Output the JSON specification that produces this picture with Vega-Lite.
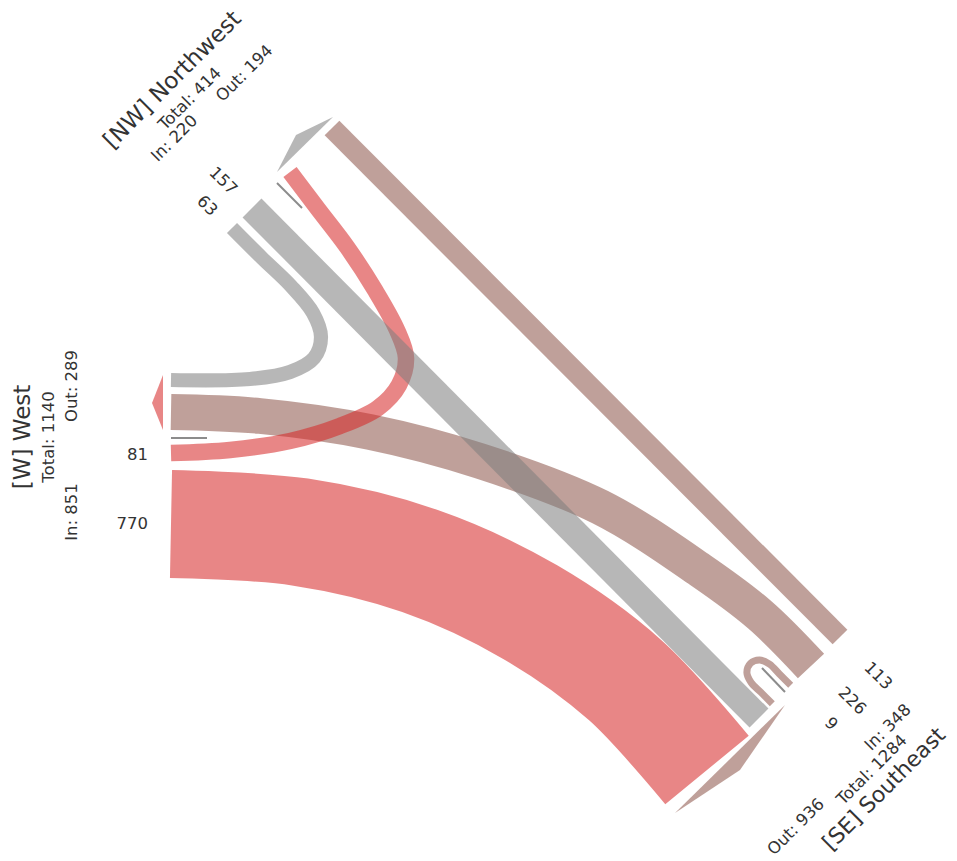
{
  "$schema": "https://vega.github.io/schema/vega-lite/v6.json",
  "width": 957,
  "height": 861,
  "autosize": "none",
  "padding": 0,
  "background": "white",
  "config": {"view": {"stroke": null}},
  "datasets": {
    "bands": [
      {"flow": "SE-W", "dst": "W", "value": 770, "i": 0, "x": 171, "y": 524},
      {"flow": "SE-W", "dst": "W", "value": 770, "i": 1, "x": 300, "y": 532},
      {"flow": "SE-W", "dst": "W", "value": 770, "i": 2, "x": 420, "y": 561},
      {"flow": "SE-W", "dst": "W", "value": 770, "i": 3, "x": 530, "y": 612},
      {"flow": "SE-W", "dst": "W", "value": 770, "i": 4, "x": 625, "y": 680},
      {"flow": "SE-W", "dst": "W", "value": 770, "i": 5, "x": 707, "y": 770},
      {"flow": "W-SE", "dst": "SE", "value": 226, "i": 0, "x": 171, "y": 412},
      {"flow": "W-SE", "dst": "SE", "value": 226, "i": 1, "x": 260, "y": 416},
      {"flow": "W-SE", "dst": "SE", "value": 226, "i": 2, "x": 370, "y": 432},
      {"flow": "W-SE", "dst": "SE", "value": 226, "i": 3, "x": 480, "y": 461},
      {"flow": "W-SE", "dst": "SE", "value": 226, "i": 4, "x": 600, "y": 507},
      {"flow": "W-SE", "dst": "SE", "value": 226, "i": 5, "x": 700, "y": 570},
      {"flow": "W-SE", "dst": "SE", "value": 226, "i": 6, "x": 760, "y": 615},
      {"flow": "W-SE", "dst": "SE", "value": 226, "i": 7, "x": 811, "y": 666},
      {"flow": "NW-W", "dst": "W", "value": 81, "i": 0, "x": 290, "y": 172},
      {"flow": "NW-W", "dst": "W", "value": 81, "i": 1, "x": 318, "y": 209},
      {"flow": "NW-W", "dst": "W", "value": 81, "i": 2, "x": 347, "y": 247},
      {"flow": "NW-W", "dst": "W", "value": 81, "i": 3, "x": 375, "y": 290},
      {"flow": "NW-W", "dst": "W", "value": 81, "i": 4, "x": 397, "y": 330},
      {"flow": "NW-W", "dst": "W", "value": 81, "i": 5, "x": 406, "y": 358},
      {"flow": "NW-W", "dst": "W", "value": 81, "i": 6, "x": 399, "y": 385},
      {"flow": "NW-W", "dst": "W", "value": 81, "i": 7, "x": 378, "y": 408},
      {"flow": "NW-W", "dst": "W", "value": 81, "i": 8, "x": 340, "y": 426},
      {"flow": "NW-W", "dst": "W", "value": 81, "i": 9, "x": 290, "y": 441},
      {"flow": "NW-W", "dst": "W", "value": 81, "i": 10, "x": 230, "y": 450},
      {"flow": "NW-W", "dst": "W", "value": 81, "i": 11, "x": 171, "y": 453},
      {"flow": "W-NW", "dst": "NW", "value": 63, "i": 0, "x": 232, "y": 228},
      {"flow": "W-NW", "dst": "NW", "value": 63, "i": 1, "x": 262, "y": 258},
      {"flow": "W-NW", "dst": "NW", "value": 63, "i": 2, "x": 291, "y": 286},
      {"flow": "W-NW", "dst": "NW", "value": 63, "i": 3, "x": 313, "y": 313},
      {"flow": "W-NW", "dst": "NW", "value": 63, "i": 4, "x": 321, "y": 337},
      {"flow": "W-NW", "dst": "NW", "value": 63, "i": 5, "x": 314, "y": 358},
      {"flow": "W-NW", "dst": "NW", "value": 63, "i": 6, "x": 290, "y": 372},
      {"flow": "W-NW", "dst": "NW", "value": 63, "i": 7, "x": 250, "y": 379},
      {"flow": "W-NW", "dst": "NW", "value": 63, "i": 8, "x": 171, "y": 380},
      {"flow": "SE-NW", "dst": "NW", "value": 157, "i": 0, "x": 759, "y": 718},
      {"flow": "SE-NW", "dst": "NW", "value": 157, "i": 1, "x": 252, "y": 208},
      {"flow": "NW-SE", "dst": "SE", "value": 113, "i": 0, "x": 332, "y": 128},
      {"flow": "NW-SE", "dst": "SE", "value": 113, "i": 1, "x": 840, "y": 637},
      {"flow": "SE-SE", "dst": "SE", "value": 9, "i": 0, "x": 772.3, "y": 703.7},
      {"flow": "SE-SE", "dst": "SE", "value": 9, "i": 1, "x": 761.0, "y": 692.4},
      {"flow": "SE-SE", "dst": "SE", "value": 9, "i": 2, "x": 751.1, "y": 682.5},
      {"flow": "SE-SE", "dst": "SE", "value": 9, "i": 3, "x": 746.9, "y": 672.6},
      {"flow": "SE-SE", "dst": "SE", "value": 9, "i": 4, "x": 750.4, "y": 663.4},
      {"flow": "SE-SE", "dst": "SE", "value": 9, "i": 5, "x": 759.6, "y": 659.9},
      {"flow": "SE-SE", "dst": "SE", "value": 9, "i": 6, "x": 769.5, "y": 664.1},
      {"flow": "SE-SE", "dst": "SE", "value": 9, "i": 7, "x": 779.4, "y": 674.0},
      {"flow": "SE-SE", "dst": "SE", "value": 9, "i": 8, "x": 790.7, "y": 685.3}
    ],
    "arrows": [
      {"node": "W", "i": 0, "x": 163, "y": 375},
      {"node": "W", "i": 1, "x": 152, "y": 403},
      {"node": "W", "i": 2, "x": 163, "y": 430},
      {"node": "NW", "i": 0, "x": 277, "y": 172},
      {"node": "NW", "i": 1, "x": 296, "y": 135},
      {"node": "NW", "i": 2, "x": 333, "y": 117},
      {"node": "SE", "i": 0, "x": 675, "y": 813},
      {"node": "SE", "i": 1, "x": 740, "y": 770},
      {"node": "SE", "i": 2, "x": 785, "y": 705}
    ],
    "dividers": [
      {"node": "W", "i": 0, "x": 171, "y": 438},
      {"node": "W", "i": 1, "x": 207, "y": 438},
      {"node": "NW", "i": 0, "x": 277, "y": 183},
      {"node": "NW", "i": 1, "x": 302, "y": 208},
      {"node": "SE", "i": 0, "x": 785, "y": 692},
      {"node": "SE", "i": 1, "x": 762, "y": 668}
    ],
    "labels": [
      {"node": "W", "kind": "title", "label": "[W] West", "x": 22.5, "y": 437},
      {"node": "NW", "kind": "title", "label": "[NW] Northwest", "x": 172.5, "y": 80},
      {"node": "SE", "kind": "title", "label": "[SE] Southeast", "x": 884, "y": 789},
      {"node": "W", "kind": "stat", "label": "Total: 1140", "x": 49, "y": 437},
      {"node": "W", "kind": "stat", "label": "Out: 289", "x": 71.5, "y": 386},
      {"node": "W", "kind": "stat", "label": "In: 851", "x": 71.5, "y": 512},
      {"node": "NW", "kind": "stat", "label": "Total: 414", "x": 190, "y": 99},
      {"node": "NW", "kind": "stat", "label": "In: 220", "x": 174.5, "y": 138.5},
      {"node": "NW", "kind": "stat", "label": "Out: 194", "x": 244.5, "y": 73.5},
      {"node": "SE", "kind": "stat", "label": "Total: 1284", "x": 872, "y": 770},
      {"node": "SE", "kind": "stat", "label": "In: 348", "x": 888, "y": 727.5},
      {"node": "SE", "kind": "stat", "label": "Out: 936", "x": 796, "y": 827},
      {"node": "W", "kind": "value", "label": "81", "x": 148, "y": 455},
      {"node": "W", "kind": "value", "label": "770", "x": 148, "y": 524},
      {"node": "NW", "kind": "value", "label": "157", "x": 223, "y": 181},
      {"node": "NW", "kind": "value", "label": "63", "x": 207, "y": 206},
      {"node": "SE", "kind": "value", "label": "113", "x": 878, "y": 676},
      {"node": "SE", "kind": "value", "label": "226", "x": 852, "y": 701},
      {"node": "SE", "kind": "value", "label": "9", "x": 831, "y": 724}
    ]
  },
  "encoding": {
    "x": {"field": "x", "type": "quantitative", "scale": {"domain": [0, 957], "nice": false, "zero": false}, "axis": null},
    "y": {"field": "y", "type": "quantitative", "scale": {"domain": [0, 861], "nice": false, "zero": false, "reverse": true}, "axis": null}
  },
  "layer": [
    {
      "data": {"name": "bands"},
      "mark": {"type": "line", "interpolate": "catmull-rom", "opacity": 0.56, "strokeCap": "butt"},
      "encoding": {
        "color": {"field": "dst", "type": "nominal", "scale": {"domain": ["W", "NW", "SE"], "range": ["#d62728", "#7f7f7f", "#8c564b"]}, "legend": null},
        "strokeWidth": {"field": "value", "type": "quantitative", "scale": {"domain": [9, 770], "range": [7, 108]}, "legend": null},
        "detail": {"field": "flow"},
        "order": {"field": "i", "type": "quantitative"}
      }
    },
    {
      "data": {"name": "arrows"},
      "mark": {"type": "line", "filled": true, "interpolate": "linear-closed", "opacity": 0.56},
      "encoding": {
        "color": {"field": "node", "type": "nominal", "scale": {"domain": ["W", "NW", "SE"], "range": ["#d62728", "#7f7f7f", "#8c564b"]}, "legend": null},
        "detail": {"field": "node"},
        "order": {"field": "i", "type": "quantitative"}
      }
    },
    {
      "data": {"name": "dividers"},
      "mark": {"type": "line", "color": "#8c8c8c", "strokeWidth": 2},
      "encoding": {
        "detail": {"field": "node"},
        "order": {"field": "i", "type": "quantitative"}
      }
    },
    {
      "data": {"name": "labels"},
      "transform": [{"filter": "datum.kind == 'title' && datum.node == 'W'"}],
      "mark": {"type": "text", "angle": 270, "fontSize": 23, "font": "DejaVu Sans", "align": "center", "baseline": "middle", "color": "#333333"},
      "encoding": {"text": {"field": "label"}}
    },
    {
      "data": {"name": "labels"},
      "transform": [{"filter": "datum.kind == 'title' && datum.node == 'NW'"}],
      "mark": {"type": "text", "angle": 315, "fontSize": 23, "font": "DejaVu Sans", "align": "center", "baseline": "middle", "color": "#333333"},
      "encoding": {"text": {"field": "label"}}
    },
    {
      "data": {"name": "labels"},
      "transform": [{"filter": "datum.kind == 'title' && datum.node == 'SE'"}],
      "mark": {"type": "text", "angle": 315, "fontSize": 22, "font": "DejaVu Sans", "align": "center", "baseline": "middle", "color": "#333333"},
      "encoding": {"text": {"field": "label"}}
    },
    {
      "data": {"name": "labels"},
      "transform": [{"filter": "datum.kind == 'stat' && datum.node == 'W'"}],
      "mark": {"type": "text", "angle": 270, "fontSize": 16.5, "font": "DejaVu Sans", "align": "center", "baseline": "middle", "color": "#333333"},
      "encoding": {"text": {"field": "label"}}
    },
    {
      "data": {"name": "labels"},
      "transform": [{"filter": "datum.kind == 'stat' && datum.node != 'W'"}],
      "mark": {"type": "text", "angle": 315, "fontSize": 16.5, "font": "DejaVu Sans", "align": "center", "baseline": "middle", "color": "#333333"},
      "encoding": {"text": {"field": "label"}}
    },
    {
      "data": {"name": "labels"},
      "transform": [{"filter": "datum.kind == 'value' && datum.node == 'W'"}],
      "mark": {"type": "text", "angle": 0, "fontSize": 16.5, "font": "DejaVu Sans", "align": "right", "baseline": "middle", "color": "#333333"},
      "encoding": {"text": {"field": "label"}}
    },
    {
      "data": {"name": "labels"},
      "transform": [{"filter": "datum.kind == 'value' && datum.node != 'W'"}],
      "mark": {"type": "text", "angle": 45, "fontSize": 16.5, "font": "DejaVu Sans", "align": "center", "baseline": "middle", "color": "#333333"},
      "encoding": {"text": {"field": "label"}}
    }
  ]
}
